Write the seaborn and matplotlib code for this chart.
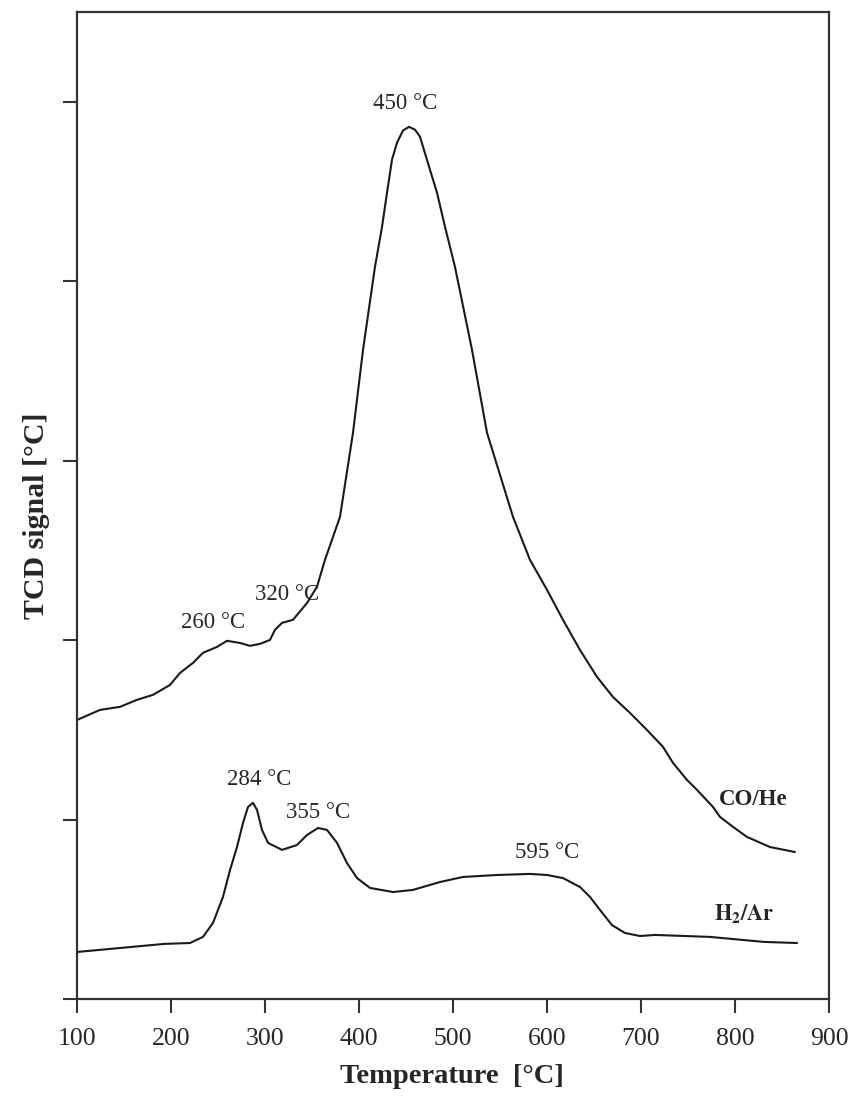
import numpy as np
import pandas as pd
import matplotlib
matplotlib.use("Agg")
import matplotlib.pyplot as plt
import seaborn as sns

# CO/He TPR profile (upper curve)
co_temp = [100, 124.5, 145.7, 163.8, 180.9, 198.9, 209.6, 223.4, 234.0, 248.9,
           259.6, 273.4, 284.0, 294.7, 305.3, 310.6, 318.1, 329.8, 344.7, 355.3,
           363.8, 379.8, 393.6, 404.3, 417.0, 424.5, 429.8, 435.1, 440.4, 446.8,
           453.2, 459.6, 464.9, 475.5, 483.0, 491.5, 502.1, 520.2, 536.2, 563.8,
           581.9, 600.0, 617.0, 635.1, 653.2, 670.2, 688.3, 706.4, 723.4, 734.0,
           748.9, 759.6, 776.6, 784.0, 797.9, 812.8, 837.2, 863.8]
co_signal = [1.555, 1.611, 1.628, 1.667, 1.695, 1.750, 1.817, 1.873, 1.929, 1.962,
             1.996, 1.984, 1.968, 1.979, 2.001, 2.057, 2.096, 2.113, 2.207, 2.297,
             2.447, 2.687, 3.155, 3.618, 4.080, 4.303, 4.493, 4.677, 4.771, 4.840,
             4.860, 4.844, 4.805, 4.621, 4.493, 4.303, 4.080, 3.618, 3.155, 2.687,
             2.447, 2.280, 2.113, 1.945, 1.795, 1.683, 1.594, 1.499, 1.405, 1.316,
             1.221, 1.165, 1.070, 1.015, 0.959, 0.903, 0.847, 0.819]

# H2/Ar TPR profile (lower curve)
h2_temp = [100, 192.6, 220.2, 234.0, 244.7, 255.3, 262.8, 270.2, 276.6, 281.9,
           287.2, 291.5, 296.8, 303.2, 318.1, 334.0, 344.7, 356.4, 366.0, 376.6,
           387.2, 397.9, 411.7, 436.2, 457.4, 486.2, 510.6, 546.8, 581.9, 600.0,
           617.0, 635.1, 645.7, 656.4, 669.1, 682.9, 698.9, 714.9, 773.4, 830.9,
           866.0]
h2_signal = [0.262, 0.307, 0.312, 0.346, 0.424, 0.569, 0.719, 0.847, 0.981, 1.070,
             1.093, 1.054, 0.942, 0.870, 0.831, 0.858, 0.914, 0.953, 0.942, 0.870,
             0.758, 0.674, 0.619, 0.596, 0.608, 0.652, 0.680, 0.691, 0.697, 0.691,
             0.674, 0.624, 0.569, 0.496, 0.412, 0.368, 0.351, 0.357, 0.346, 0.318,
             0.312]

peak_labels = ["450 °C", "260 °C", "320 °C", "284 °C", "355 °C", "595 °C"]
peak_x = [449, 245, 323, 294, 356, 600]
peak_y = [4.99, 2.096, 2.252, 1.221, 1.042, 0.819]

x_ticks = [100, 200, 300, 400, 500, 600, 700, 800, 900]
y_ticks = [0, 1, 2, 3, 4, 5]

sns.set_style("ticks")
plt.rcParams['font.family'] = ['Liberation Serif', 'DejaVu Serif']
plt.rcParams['mathtext.fontset'] = 'stix'

fig = plt.figure(figsize=(8.56, 10.99), dpi=100)
ax = fig.add_axes([77/856, 1-999/1099, (829-77)/856, (999-12)/1099])

df_co = pd.DataFrame({"T": co_temp, "S": co_signal})
df_h2 = pd.DataFrame({"T": h2_temp, "S": h2_signal})
sns.lineplot(data=df_co, x="T", y="S", ax=ax, color="#1a1a1a", lw=1.5, sort=False)
sns.lineplot(data=df_h2, x="T", y="S", ax=ax, color="#1a1a1a", lw=1.5, sort=False)

ax.set_xlim(100, 900)
ax.set_ylim(0, 5.5)
ax.set_xticks(x_ticks)
ax.set_yticks(y_ticks)
ax.set_yticklabels([])
ax.tick_params(axis='both', direction='out', length=10, width=1.5, color='#333333')
ax.tick_params(axis='x', labelsize=18.5, pad=11)
for s in ax.spines.values():
    s.set_visible(True)
    s.set_linewidth(1.6)
    s.set_color('#333333')

for lab, x, y in zip(peak_labels, peak_x, peak_y):
    ax.text(x, y, lab, ha='center', va='center', fontsize=16.5)

ax.text(819, 1.109, "CO/He", ha='center', va='center', fontsize=16.5, fontweight='bold')
ax.text(810, 0.47, r"$\mathbf{H_2/Ar}$", ha='center', va='center', fontsize=16)

ax.set_xlabel("Temperature  [°C]", fontsize=20.5, fontweight='bold')
ax.set_ylabel("TCD signal [°C]", fontsize=21.5, fontweight='bold')
ax.xaxis.set_label_coords(0.499, -0.066)
ax.yaxis.set_label_coords(-0.036, 0.49)

fig.savefig("out.png", dpi=100)
